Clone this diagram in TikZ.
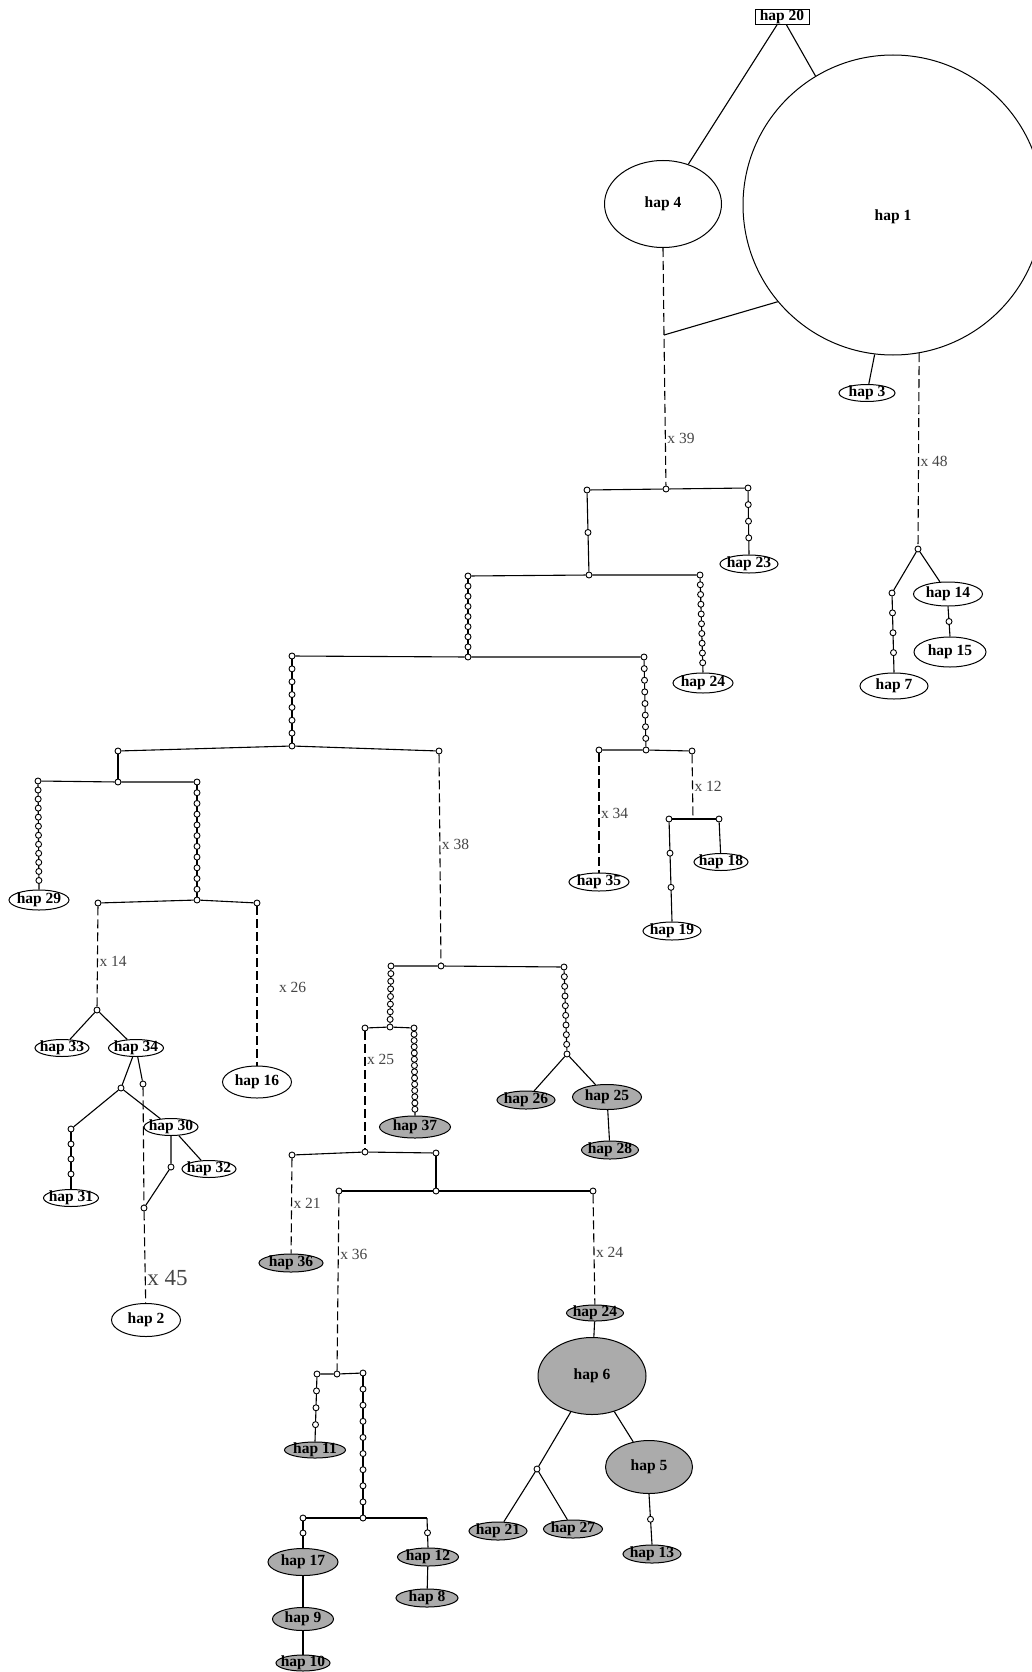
\documentclass[tikz,border=0pt]{standalone}
\usepackage{fontspec}
\setmainfont{Liberation Serif}
\usetikzlibrary{calc,positioning,shapes.geometric}
\definecolor{hapgray}{gray}{0.67}
\definecolor{lblgray}{gray}{0.27}

% line from #1 to #2 with #3 mutation dots on it, named #4-1, #4-2, ...
\newcommand{\mutchain}[4]{%
  \draw[edge] (#1) -- (#2);
  \foreach \dotidx in {1,...,#3}
    \node[mut] (#4-\dotidx) at ($(#1)!{\dotidx/(#3+1)}!(#2)$) {};
}

\begin{document}
\begin{tikzpicture}[x=1pt, y=-1pt,
  hap/.style={draw, ellipse, line width=1pt, inner xsep=-25pt, inner ysep=-7pt,
    font=\bfseries\fontsize{15.5}{16}\selectfont},
  haps/.style={hap, fill=hapgray},
  hapbox/.style={draw, line width=0.9pt, inner sep=0pt, minimum width=54pt, minimum height=15pt,
    font=\bfseries\fontsize{15.5}{16}\selectfont},
  sz/.style 2 args={minimum width=#1pt, minimum height=#2pt},
  mut/.style={draw, circle, fill=white, inner sep=0pt, minimum size=6pt, line width=0.9pt},
  edge/.style={line width=1.1pt},
  dashline/.style={line width=1.1pt, dash pattern=on 9pt off 4pt},
  lbl/.style={font=\fontsize{15.5}{16}\selectfont, text=lblgray, inner sep=1.5pt}]

\path[use as bounding box, fill=white] (0,0) rectangle (1032,1672);

% haplotypes
\node[hapbox] (h20) at (782,17) {hap 20};
\node[hap, circle, minimum size=300pt] (h1) at (893,205) {\raisebox{-15pt}[0pt][0pt]{hap 1}};
\node[hap, sz={117}{87}] (h4) at (663,204) {hap 4};
\node[hap, sz={56}{17}] (h3) at (867,393) {hap 3};
\node[hap, sz={58}{18}] (h23) at (749,564) {hap 23};
\node[hap, sz={60}{20}] (h24) at (703,683) {hap 24};
\node[hap, sz={69}{24}] (h14) at (948,594) {hap 14};
\node[hap, sz={72}{30}] (h15) at (950,652) {hap 15};
\node[hap, sz={68}{26}] (h7) at (894,686) {hap 7};
\node[hap, sz={60}{20}] (h29) at (39,900) {hap 29};
\node[hap, sz={60}{18}] (h35) at (599,882) {hap 35};
\node[hap, sz={58}{18}] (h19) at (672,931) {hap 19};
\node[hap, sz={54}{17}] (h18) at (721,862) {hap 18};
\node[hap, sz={69}{32}] (h16) at (257,1082) {hap 16};
\node[hap, sz={54}{17}] (h33) at (62,1048) {hap 33};
\node[hap, sz={55}{17}] (h34) at (136,1048) {hap 34};
\node[hap, sz={54}{17}] (h30) at (171,1127) {hap 30};
\node[hap, sz={55}{17}] (h31) at (71,1198) {hap 31};
\node[hap, sz={54}{17}] (h32) at (209,1169) {hap 32};
\node[hap, sz={69}{33}] (h2) at (146,1320) {hap 2};

\node[haps, sz={64}{18}] (h36) at (291,1263) {hap 36};
\node[haps, sz={71}{22}] (h37) at (415,1127) {hap 37};
\node[haps, sz={58}{18}] (h26) at (526,1100) {hap 26};
\node[haps, sz={69}{25}] (h25) at (607,1097) {hap 25};
\node[haps, sz={57}{18}] (h28) at (610,1150) {hap 28};
\node[haps, sz={57}{16}] (h24g) at (595,1313) {hap 24};
\node[haps, sz={108}{77}] (h6) at (592,1376) {hap 6};
\node[haps, sz={87}{53}] (h5) at (649,1467) {hap 5};
\node[haps, sz={58}{18}] (h21) at (498,1531) {hap 21};
\node[haps, sz={59}{18}] (h27) at (573,1529) {hap 27};
\node[haps, sz={58}{18}] (h13) at (652,1554) {hap 13};
\node[haps, sz={61}{16}] (h11) at (315,1450) {hap 11};
\node[haps, sz={70}{27}] (h17) at (303,1562) {hap 17};
\node[haps, sz={61}{23}] (h9) at (303,1619) {hap 9};
\node[haps, sz={54}{16}] (h10) at (303,1663) {hap 10};
\node[haps, sz={61}{18}] (h12) at (428,1557) {hap 12};
\node[haps, sz={62}{18}] (h8) at (427,1598) {hap 8};

% median vectors / mutation steps
\coordinate (c1) at (664,335);
\node[mut] (m39) at (666,489) {};
\node[mut] (a1) at (587,490) {};
\node[mut] (a2) at (748,488) {};
\node[mut] (bL) at (468,576) {};
\node[mut] (bM) at (589,575) {};
\node[mut] (bR) at (700,575) {};
\node[mut] (cL) at (292,656) {};
\node[mut] (cM) at (468,657) {};
\node[mut] (cR) at (644,657) {};
\node[mut] (dL) at (118,751) {};
\node[mut] (dM) at (292,746) {};
\node[mut] (dR) at (439,751) {};
\node[mut] (eL) at (599,750) {};
\node[mut] (eM) at (646,750) {};
\node[mut] (eR) at (692,751) {};
\coordinate (e2) at (693,819);
\node[mut] (sL) at (669,819) {};
\node[mut] (sR) at (719,819) {};
\node[mut] (fL) at (38,781) {};
\node[mut] (fM) at (118,782) {};
\node[mut] (fR) at (197,782) {};
\node[mut] (gL) at (98,903) {};
\node[mut] (gM) at (197,900) {};
\node[mut] (gR) at (257,903) {};
\node[mut] (k1) at (97,1010) {};
\node[mut] (k2) at (121,1088) {};
\node[mut] (k3) at (143,1084) {};
\node[mut] (k4) at (71,1129) {};
\node[mut] (k5) at (171,1167) {};
\node[mut] (k6) at (144,1208) {};
\node[mut] (tL) at (391,966) {};
\node[mut] (tM) at (441,966) {};
\node[mut] (tR) at (564,967) {};
\node[mut] (uL) at (365,1028) {};
\node[mut] (uM) at (390,1027) {};
\node[mut] (uR) at (414,1028) {};
\node[mut] (v) at (567,1054) {};
\node[mut] (wL) at (292,1155) {};
\node[mut] (wM) at (365,1152) {};
\node[mut] (wR) at (436,1153) {};
\node[mut] (yL) at (339,1191) {};
\node[mut] (yM) at (436,1191) {};
\node[mut] (yR) at (593,1191) {};
\node[mut] (zL) at (317,1374) {};
\node[mut] (zM) at (337,1374) {};
\node[mut] (zR) at (363,1373) {};
\node[mut] (pL) at (303,1518) {};
\node[mut] (pM) at (363,1518) {};
\coordinate (pC) at (427,1518);
\node[mut] (q) at (537,1469) {};
\node[mut] (n48) at (918,549) {};
\node[mut] (r1) at (892,593) {};

% top
\draw[edge] (h20) -- (h4);
\draw[edge] (h20) -- (h1.121);
\draw[edge] (h1.220) -- (c1);
\draw[edge] (h1.263) -- (h3);
\draw[dashline] (h4.south) -- (c1) -- node[lbl, pos=0.69, right] (l39) {x 39} (m39);
\draw[dashline] (h1.280) -- node[lbl, pos=0.56, right] (l48) {x 48} (n48);
\draw[edge] (n48) -- (r1);
\draw[edge] (n48) -- (h14);
\mutchain{r1}{h7.north}{3}{r1}
\mutchain{h14.south}{h15.north}{1}{h14}

\draw[edge] (a1) -- (m39) -- (a2);
\mutchain{a2}{h23.north}{3}{a2}
\mutchain{a1}{bM}{1}{a1}
\draw[edge] (bL) -- (bM) -- (bR);
\mutchain{bR}{h24.north}{9}{bR}
\mutchain{bL}{cM}{7}{bL}
\draw[edge] (cL) -- (cM) -- (cR);
\mutchain{cL}{dM}{6}{cL}
\mutchain{cR}{eM}{7}{cR}
\draw[edge] (dL) -- (dM) -- (dR);

% right branch
\draw[edge] (eL) -- (eM) -- (eR);
\draw[dashline] (eL) -- node[lbl, pos=0.5, right] (l34) {x 34} (h35);
\draw[dashline] (eR) -- node[lbl, pos=0.5, right] (l12) {x 12} (e2);
\draw[edge] (sL) -- (sR);
\mutchain{sL}{h19.north}{2}{sL}
\draw[edge] (sR) -- (h18);

% left branch
\draw[edge] (dL) -- (fM);
\draw[edge] (fL) -- (fM) -- (fR);
\mutchain{fL}{h29.north}{11}{fL}
\mutchain{fR}{gM}{10}{fR}
\draw[edge] (gL) -- (gM) -- (gR);
\draw[dashline] (gL) -- node[lbl, pos=0.55, right] (l14) {x 14} (k1);
\draw[dashline] (gR) -- node[lbl, pos=0.51, right, xshift=20pt] (l26) {x 26} (h16);
\draw[edge] (k1) -- (h33);
\draw[edge] (k1) -- (h34);
\draw[edge] (h34) -- (k2);
\draw[edge] (h34) -- (k3);
\draw[edge] (k2) -- (k4);
\draw[edge] (k2) -- (h30);
\mutchain{k4}{h31.north}{3}{k4}
\draw[edge] (h30) -- (k5) -- (k6);
\draw[edge] (h30) -- (h32);
\draw[dashline] (k3) -- (k6);
\draw[dashline] (k6) -- node[lbl, pos=0.73, right, font=\fontsize{23}{24}\selectfont] (l45) {x 45} (h2);

% middle branch
\draw[dashline] (dR) -- node[lbl, pos=0.43, right] (l38) {x 38} (tM);
\draw[edge] (tL) -- (tM) -- (tR);
\mutchain{tL}{uM}{7}{tL}
\draw[edge] (uL) -- (uM) -- (uR);
\mutchain{uR}{h37.north}{13}{uR}
\mutchain{tR}{v}{8}{tR}
\draw[edge] (v) -- (h26);
\draw[edge] (v) -- (h25);
\draw[edge] (h25) -- (h28);
\draw[dashline] (uL) -- node[lbl, pos=0.24, right] (l25) {x 25} (wM);
\draw[edge] (wL) -- (wM) -- (wR);
\draw[edge] (wR) -- (yM);
\draw[edge] (yL) -- (yM) -- (yR);
\draw[dashline] (wL) -- node[lbl, pos=0.47, right] (l21) {x 21} (h36);
\draw[dashline] (yL) -- node[lbl, pos=0.34, right] (l36) {x 36} (zM);
\draw[dashline] (yR) -- node[lbl, pos=0.53, right] (l24) {x 24} (h24g);
\draw[edge] (h24g) -- (h6);
\draw[edge] (h6) -- (h5);
\draw[edge] (h6) -- (q);
\draw[edge] (q) -- (h21);
\draw[edge] (q) -- (h27);
\mutchain{h5.south}{h13.north}{1}{h5}
\draw[edge] (zL) -- (zM) -- (zR);
\mutchain{zL}{h11.north}{3}{zL}
\mutchain{zR}{pM}{8}{zR}
\draw[edge] (pL) -- (pM) -- (pC);
\mutchain{pL}{h17.north}{1}{pL}
\mutchain{pC}{h12.north}{1}{pC}
\draw[edge] (h17) -- (h9) -- (h10);
\draw[edge] (h12) -- (h8);
\end{tikzpicture}
\end{document}
